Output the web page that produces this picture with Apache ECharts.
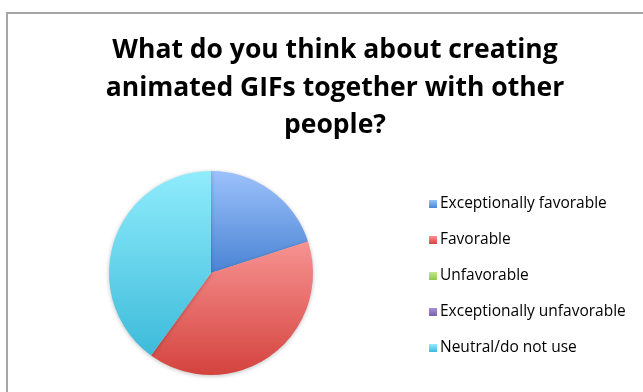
<!DOCTYPE html>
<html>
<head>
<meta charset="utf-8">
<script src="https://cdn.jsdelivr.net/npm/echarts@6/dist/echarts.min.js"></script>
<style>
  html, body { margin: 0; padding: 0; background: #fff; }
  #chart { width: 643px; height: 392px; }
</style>
</head>
<body>
<div id="chart"></div>
<script>
var titleText = 'What do you think about creating\nanimated GIFs together with other\npeople?'
var categories = ['Exceptionally favorable', 'Favorable', 'Unfavorable', 'Exceptionally unfavorable', 'Neutral/do not use']
var values = [20, 40, 0, 0, 40]
// top / bottom colour of each slice gradient
var topColors = ['#9cc1fb', '#f79392', '#c3ea8c', '#a990d4', '#90ecfc']
var bottomColors = ['#4a84d4', '#d4433e', '#8cc84a', '#7a5fae', '#3dbbda']

var chart = echarts.init(document.getElementById('chart'))

var font = '"Open Sans", "Noto Sans", sans-serif'

var data = categories.map(function (name, i) {
  return {
    name: name,
    value: values[i],
    itemStyle: {
      color: new echarts.graphic.LinearGradient(0, 0, 0, 1, [
        { offset: 0, color: topColors[i] },
        { offset: 1, color: bottomColors[i] }
      ])
    }
  }
})

chart.setOption({
  animation: false,
  title: {
    text: titleText,
    left: 330,
    textAlign: 'center',
    top: 27,
    textStyle: {
      fontFamily: font,
      fontWeight: 'bold',
      fontSize: 26.5,
      lineHeight: 37.5,
      color: '#000'
    }
  },
  legend: {
    orient: 'vertical',
    left: 429,
    top: 196,
    padding: 0,
    icon: 'rect',
    itemWidth: 8,
    itemHeight: 8,
    itemGap: 20,
    textStyle: {
      fontFamily: font,
      fontSize: 15.5,
      lineHeight: 16,
      color: '#000',
      padding: [0, 0, 0, -2]
    },
    data: categories
  },
  graphic: [{
    type: 'rect',
    shape: { x: 7, y: 13, width: 700, height: 500 },
    style: { fill: 'none', stroke: '#a6a6a6', lineWidth: 2 },
    silent: true
  }],
  series: [{
    type: 'pie',
    center: [211, 273],
    radius: 102,
    startAngle: 90,
    clockwise: true,
    label: { show: false },
    labelLine: { show: false },
    itemStyle: {
      shadowBlur: 4,
      shadowColor: 'rgba(0,0,0,0.25)',
      shadowOffsetY: 1
    },
    emphasis: { disabled: true },
    data: data
  }]
})
</script>
</body>
</html>
